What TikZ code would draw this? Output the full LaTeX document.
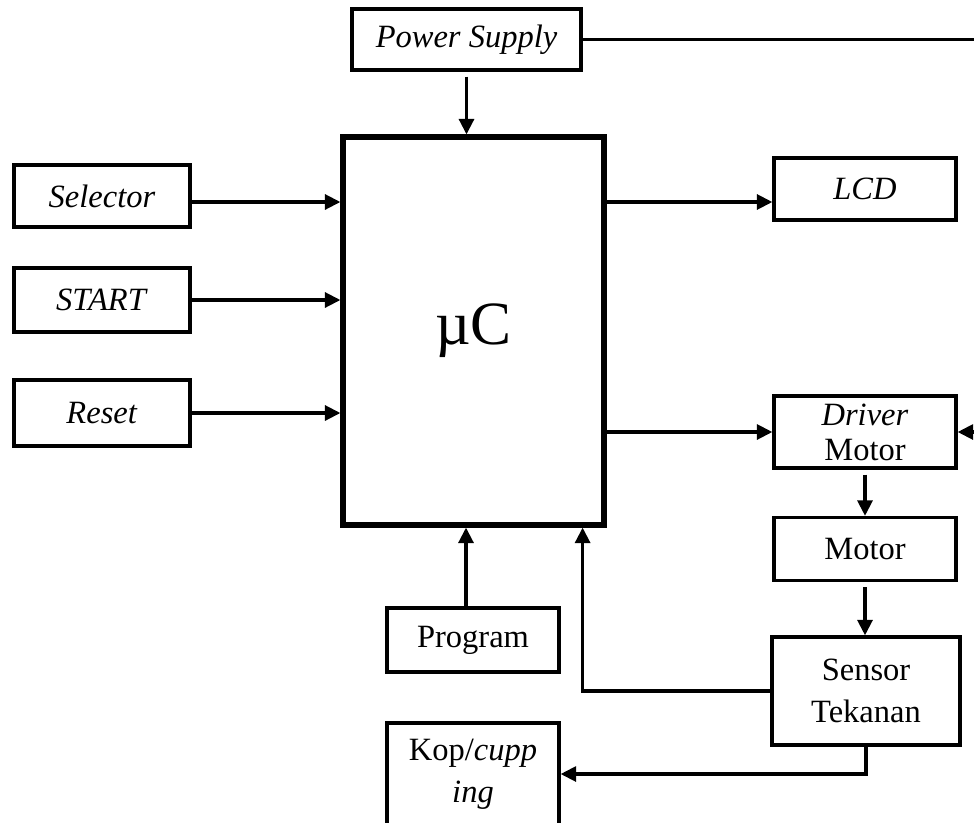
\documentclass[tikz,border=0pt]{standalone}
\usepackage{fontspec}
\setmainfont{Liberation Serif}
\usepackage{tikz}
\usetikzlibrary{arrows.meta,positioning}

\begin{document}
\begin{tikzpicture}[x=0.02cm,y=-0.02cm,
    blockbox/.style={draw, line width=1.9pt, align=center, inner sep=0pt,
        font=\fontsize{18.5}{20}\selectfont},
    ucbox/.style={draw, line width=3pt, inner sep=0pt,
        font=\fontsize{35}{40}\selectfont},
    link/.style={line width=1.8pt, -{Triangle[length=0.31cm,width=0.3cm]}}]
    \useasboundingbox (0,0) rectangle (974,822);

    \node[ucbox, minimum width=5.22cm, minimum height=7.76cm] (uc) at (473.5,331) {µC};

    \node[blockbox, minimum width=4.58cm, minimum height=1.22cm] (ps) at (466.5,39.5) {\textit{Power Supply}};

    \node[blockbox, minimum width=3.52cm, minimum height=1.24cm] (sel) at (102,196) {\textit{Selector}};
    \node[blockbox, minimum width=3.52cm, minimum height=1.28cm] (start) at (102,300) {\textit{START}};
    \node[blockbox, minimum width=3.52cm, minimum height=1.32cm] (reset) at (102,413) {\textit{Reset}};

    \node[blockbox, minimum width=3.64cm, minimum height=1.24cm] (lcd) at (865,189) {\textit{LCD}};
    \node[blockbox, minimum width=3.64cm, minimum height=1.44cm] (drv) at (865,432) {\textit{Driver}\\Motor};
    \node[blockbox, minimum width=3.64cm, minimum height=1.26cm] (mot) at (865,549) {Motor};
    \node[blockbox, minimum width=3.76cm, minimum height=2.16cm] (sen) at (866,691) {Sensor\\[4pt]Tekanan};

    \node[blockbox, minimum width=3.44cm, minimum height=1.28cm] (prog) at (473,640) {Program};
    \node[blockbox, minimum width=3.44cm, minimum height=2.04cm] (kop) at (473,774) {Kop/\textit{cupp}\\[4pt]\textit{ing}};

    % supply lines
    \coordinate (rail) at (990,432);
    \draw[link, shorten <=0.1cm] (ps.south) -- (ps.south |- uc.north);
    \draw[link] (ps.east) -| (rail) -- (drv.east);

    % inputs
    \draw[link] ([yshift=-0.12cm]sel.east) -- ([yshift=-0.12cm]sel.east -| uc.west);
    \draw[link] (start.east) -- (start.east -| uc.west);
    \draw[link] (reset.east) -- (reset.east -| uc.west);
    \draw[link] ([xshift=-0.14cm]prog.north) -- ([xshift=-0.14cm]prog.north |- uc.south);

    % outputs
    \draw[link] ([yshift=-0.26cm]lcd.west -| uc.east) -- ([yshift=-0.26cm]lcd.west);
    \draw[link] (drv.west -| uc.east) -- (drv.west);
    \draw[link, shorten <=0.1cm] (drv.south) -- (drv.south |- mot.north);
    \draw[link, shorten <=0.1cm] (mot.south) -- (mot.south |- sen.north);
    \draw[link] (sen.west) -| ([xshift=-0.48cm]uc.south east);
    \draw[link] (sen.south) |- (kop.east);
\end{tikzpicture}
\end{document}
